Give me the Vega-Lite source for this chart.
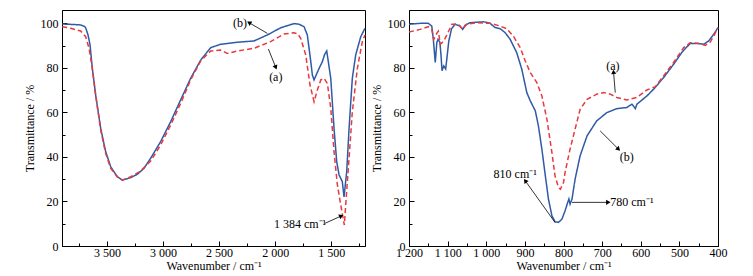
{
  "$schema": "https://vega.github.io/schema/vega-lite/v6.json",
  "background": "white",
  "padding": {"left": 22, "top": 9, "right": 2, "bottom": 2},
  "spacing": 0,
  "config": {
    "view": {"stroke": "black", "strokeWidth": 1},
    "axis": {
      "grid": false, "domainColor": "black", "domainWidth": 1, "tickColor": "black", "tickWidth": 1,
      "labelColor": "black", "titleColor": "black", "labelFont": "Liberation Serif", "titleFont": "Liberation Serif",
      "labelFontSize": 12, "titleFontSize": 12, "titleFontWeight": "normal", "labelFlush": false, "labelOverlap": false
    },
    "text": {"font": "Liberation Serif", "fontSize": 12, "color": "black"}
  },
  "datasets": {
    "left": [
      {"s": "b", "w": 3898, "T": 99.7}, {"s": "b", "w": 3800, "T": 99.5}, {"s": "b", "w": 3734, "T": 99.3}, {"s": "b", "w": 3700, "T": 98.6},
      {"s": "b", "w": 3689, "T": 98}, {"s": "b", "w": 3668, "T": 94.8}, {"s": "b", "w": 3650, "T": 90.3}, {"s": "b", "w": 3630, "T": 79.8},
      {"s": "b", "w": 3600, "T": 67.8}, {"s": "b", "w": 3555, "T": 52.8}, {"s": "b", "w": 3511, "T": 42.4}, {"s": "b", "w": 3466, "T": 35.6},
      {"s": "b", "w": 3407, "T": 31.1}, {"s": "b", "w": 3362, "T": 29.6}, {"s": "b", "w": 3288, "T": 30.7}, {"s": "b", "w": 3229, "T": 32.2},
      {"s": "b", "w": 3169, "T": 34.9}, {"s": "b", "w": 3110, "T": 39.4}, {"s": "b", "w": 3021, "T": 46.9}, {"s": "b", "w": 2932, "T": 55.8},
      {"s": "b", "w": 2843, "T": 65.6}, {"s": "b", "w": 2754, "T": 75.3}, {"s": "b", "w": 2664, "T": 83.5}, {"s": "b", "w": 2575, "T": 89.1},
      {"s": "b", "w": 2486, "T": 90.6}, {"s": "b", "w": 2338, "T": 91.5}, {"s": "b", "w": 2189, "T": 92.1}, {"s": "b", "w": 2070, "T": 94.8},
      {"s": "b", "w": 1952, "T": 98}, {"s": "b", "w": 1833, "T": 99.9}, {"s": "b", "w": 1788, "T": 99.6}, {"s": "b", "w": 1743, "T": 98.5},
      {"s": "b", "w": 1714, "T": 94.8}, {"s": "b", "w": 1683, "T": 82.8}, {"s": "b", "w": 1669, "T": 76.8}, {"s": "b", "w": 1654, "T": 74.6},
      {"s": "b", "w": 1609, "T": 79.8}, {"s": "b", "w": 1580, "T": 82.8}, {"s": "b", "w": 1560, "T": 86}, {"s": "b", "w": 1541, "T": 87.6},
      {"s": "b", "w": 1505, "T": 75.3}, {"s": "b", "w": 1476, "T": 52.8}, {"s": "b", "w": 1452, "T": 37.9}, {"s": "b", "w": 1431, "T": 31.9},
      {"s": "b", "w": 1402, "T": 28.9}, {"s": "b", "w": 1387, "T": 22}, {"s": "b", "w": 1363, "T": 33.4}, {"s": "b", "w": 1342, "T": 52.8},
      {"s": "b", "w": 1313, "T": 75.3}, {"s": "b", "w": 1283, "T": 85.8}, {"s": "b", "w": 1238, "T": 94}, {"s": "b", "w": 1200, "T": 97.8},
      {"s": "a", "w": 3898, "T": 98.5}, {"s": "a", "w": 3823, "T": 97.8}, {"s": "a", "w": 3734, "T": 96.6}, {"s": "a", "w": 3689, "T": 94},
      {"s": "a", "w": 3659, "T": 88.8}, {"s": "a", "w": 3630, "T": 79.8}, {"s": "a", "w": 3600, "T": 67.8}, {"s": "a", "w": 3555, "T": 52},
      {"s": "a", "w": 3511, "T": 41.6}, {"s": "a", "w": 3466, "T": 34.9}, {"s": "a", "w": 3407, "T": 31.1}, {"s": "a", "w": 3362, "T": 29.6},
      {"s": "a", "w": 3288, "T": 31.1}, {"s": "a", "w": 3199, "T": 33.7}, {"s": "a", "w": 3110, "T": 38.2}, {"s": "a", "w": 3021, "T": 45.4},
      {"s": "a", "w": 2932, "T": 54.3}, {"s": "a", "w": 2843, "T": 64}, {"s": "a", "w": 2754, "T": 74.6}, {"s": "a", "w": 2664, "T": 83.1},
      {"s": "a", "w": 2575, "T": 87.6}, {"s": "a", "w": 2486, "T": 88}, {"s": "a", "w": 2427, "T": 86.5}, {"s": "a", "w": 2338, "T": 87.6},
      {"s": "a", "w": 2189, "T": 88.8}, {"s": "a", "w": 2041, "T": 91.8}, {"s": "a", "w": 1922, "T": 95.2}, {"s": "a", "w": 1833, "T": 95.8},
      {"s": "a", "w": 1800, "T": 95.3}, {"s": "a", "w": 1773, "T": 93.3}, {"s": "a", "w": 1728, "T": 85.8}, {"s": "a", "w": 1690, "T": 72.3},
      {"s": "a", "w": 1654, "T": 64.8}, {"s": "a", "w": 1625, "T": 70}, {"s": "a", "w": 1594, "T": 74.6}, {"s": "a", "w": 1565, "T": 75.3},
      {"s": "a", "w": 1535, "T": 73}, {"s": "a", "w": 1505, "T": 61.8}, {"s": "a", "w": 1476, "T": 42.4}, {"s": "a", "w": 1446, "T": 27.4},
      {"s": "a", "w": 1416, "T": 18.4}, {"s": "a", "w": 1384, "T": 9.4}, {"s": "a", "w": 1372, "T": 18.4}, {"s": "a", "w": 1342, "T": 39.4},
      {"s": "a", "w": 1313, "T": 60.3}, {"s": "a", "w": 1268, "T": 79.8}, {"s": "a", "w": 1224, "T": 91.8}, {"s": "a", "w": 1200, "T": 94.8}
    ],
    "right": [
      {"s": "b", "w": 1200, "T": 99.6}, {"s": "b", "w": 1171, "T": 100}, {"s": "b", "w": 1150, "T": 100}, {"s": "b", "w": 1141, "T": 98.8},
      {"s": "b", "w": 1137, "T": 92.8}, {"s": "b", "w": 1132, "T": 82.4}, {"s": "b", "w": 1128, "T": 91.3}, {"s": "b", "w": 1125, "T": 92.8},
      {"s": "b", "w": 1120, "T": 91.5}, {"s": "b", "w": 1117, "T": 85.4}, {"s": "b", "w": 1114.5, "T": 78.7}, {"s": "b", "w": 1110, "T": 80.9},
      {"s": "b", "w": 1105, "T": 79.5}, {"s": "b", "w": 1097, "T": 92}, {"s": "b", "w": 1090, "T": 97.5}, {"s": "b", "w": 1081, "T": 99.6},
      {"s": "b", "w": 1068, "T": 98.8}, {"s": "b", "w": 1061, "T": 97.3}, {"s": "b", "w": 1055, "T": 99.1}, {"s": "b", "w": 1042, "T": 100.3},
      {"s": "b", "w": 1007, "T": 100.7}, {"s": "b", "w": 990, "T": 100}, {"s": "b", "w": 977, "T": 98.1}, {"s": "b", "w": 964, "T": 97.6},
      {"s": "b", "w": 951, "T": 95.8}, {"s": "b", "w": 938, "T": 92.8}, {"s": "b", "w": 921, "T": 86.8}, {"s": "b", "w": 908, "T": 79.4},
      {"s": "b", "w": 895, "T": 68.9}, {"s": "b", "w": 886, "T": 65.2}, {"s": "b", "w": 873, "T": 60.7}, {"s": "b", "w": 865, "T": 54},
      {"s": "b", "w": 856, "T": 43.5}, {"s": "b", "w": 847, "T": 31.5}, {"s": "b", "w": 839, "T": 21.1}, {"s": "b", "w": 830, "T": 13.6},
      {"s": "b", "w": 822, "T": 10.9}, {"s": "b", "w": 813, "T": 10.6}, {"s": "b", "w": 804, "T": 12.1}, {"s": "b", "w": 796, "T": 15.8},
      {"s": "b", "w": 789, "T": 19.6}, {"s": "b", "w": 786, "T": 21.1}, {"s": "b", "w": 783, "T": 18.8}, {"s": "b", "w": 778, "T": 21.1},
      {"s": "b", "w": 770, "T": 30}, {"s": "b", "w": 757, "T": 40.5}, {"s": "b", "w": 739, "T": 49.5}, {"s": "b", "w": 714, "T": 56.2},
      {"s": "b", "w": 688, "T": 59.9}, {"s": "b", "w": 662, "T": 61.7}, {"s": "b", "w": 636, "T": 62.2}, {"s": "b", "w": 623, "T": 63.7},
      {"s": "b", "w": 619, "T": 62.9}, {"s": "b", "w": 614, "T": 61.7}, {"s": "b", "w": 610, "T": 63.7}, {"s": "b", "w": 584, "T": 67.4},
      {"s": "b", "w": 567, "T": 70.4}, {"s": "b", "w": 541, "T": 75.6}, {"s": "b", "w": 515, "T": 81.6}, {"s": "b", "w": 493, "T": 87.1},
      {"s": "b", "w": 472, "T": 91}, {"s": "b", "w": 454, "T": 91}, {"s": "b", "w": 437, "T": 90.6}, {"s": "b", "w": 424, "T": 92.1},
      {"s": "b", "w": 411, "T": 95.1}, {"s": "b", "w": 400, "T": 98.1},
      {"s": "a", "w": 1200, "T": 96.1}, {"s": "a", "w": 1171, "T": 97.3}, {"s": "a", "w": 1150, "T": 98.5}, {"s": "a", "w": 1141, "T": 97.3},
      {"s": "a", "w": 1136, "T": 92.8}, {"s": "a", "w": 1127, "T": 95.8}, {"s": "a", "w": 1124, "T": 96.5}, {"s": "a", "w": 1119, "T": 90.6},
      {"s": "a", "w": 1110, "T": 92}, {"s": "a", "w": 1101.5, "T": 95}, {"s": "a", "w": 1089, "T": 99.6}, {"s": "a", "w": 1072, "T": 99.6},
      {"s": "a", "w": 1061, "T": 97.3}, {"s": "a", "w": 1051, "T": 99.6}, {"s": "a", "w": 1025, "T": 100.3}, {"s": "a", "w": 990, "T": 100},
      {"s": "a", "w": 964, "T": 98.8}, {"s": "a", "w": 947, "T": 97.6}, {"s": "a", "w": 930, "T": 94.3}, {"s": "a", "w": 912, "T": 89.1},
      {"s": "a", "w": 899, "T": 83.1}, {"s": "a", "w": 886, "T": 77.9}, {"s": "a", "w": 869, "T": 73.4}, {"s": "a", "w": 856, "T": 67.4},
      {"s": "a", "w": 843, "T": 57}, {"s": "a", "w": 830, "T": 42}, {"s": "a", "w": 822, "T": 31.5}, {"s": "a", "w": 813, "T": 26.3},
      {"s": "a", "w": 808, "T": 25.5}, {"s": "a", "w": 800, "T": 28.5}, {"s": "a", "w": 796, "T": 33}, {"s": "a", "w": 783, "T": 43.5},
      {"s": "a", "w": 770, "T": 52.5}, {"s": "a", "w": 757, "T": 61.4}, {"s": "a", "w": 739, "T": 65.9}, {"s": "a", "w": 714, "T": 68.2},
      {"s": "a", "w": 696, "T": 68.9}, {"s": "a", "w": 679, "T": 68.2}, {"s": "a", "w": 662, "T": 66.7}, {"s": "a", "w": 636, "T": 65.6},
      {"s": "a", "w": 610, "T": 66.7}, {"s": "a", "w": 584, "T": 70.1}, {"s": "a", "w": 562, "T": 71.6}, {"s": "a", "w": 541, "T": 76.4},
      {"s": "a", "w": 515, "T": 82.4}, {"s": "a", "w": 489, "T": 89.1}, {"s": "a", "w": 472, "T": 91.3}, {"s": "a", "w": 450, "T": 91},
      {"s": "a", "w": 433, "T": 90.1}, {"s": "a", "w": 420, "T": 91.6}, {"s": "a", "w": 411, "T": 94.3}, {"s": "a", "w": 400, "T": 98.1}
    ],
    "arrL": [
      {"id": "Lb", "w": 2233, "T": 100.3, "w2": 2070, "T2": 95.5},
      {"id": "La", "w": 1995, "T": 80.2, "w2": 2061, "T2": 88.5},
      {"id": "L1384", "w": 1411, "T": 13.5, "w2": 1556, "T2": 10.2}
    ],
    "txtL": [
      {"lab": "(b)", "w": 2314, "T": 100},
      {"lab": "(a)", "w": 1995, "T": 76},
      {"lab": "1 384 cm⁻¹", "w": 1779, "T": 9.7}
    ],
    "arrR": [
      {"id": "Ra", "w": 670.5, "T": 78.2, "w2": 666, "T2": 68.9},
      {"id": "Rb", "w": 657.6, "T": 43.5, "w2": 705, "T2": 51.7},
      {"id": "R810", "w": 899, "T": 29.3, "w2": 822, "T2": 10.6},
      {"id": "R780", "w": 684, "T": 19.6, "w2": 778, "T2": 19.6}
    ],
    "txtR": [
      {"lab": "(a)", "w": 672, "T": 81},
      {"lab": "(b)", "w": 636, "T": 39.8},
      {"lab": "810 cm⁻¹", "w": 925, "T": 32.3},
      {"lab": "780 cm⁻¹", "w": 623, "T": 19.6}
    ]
  },
  "hconcat": [
    {
      "width": 303, "height": 236,
      "encoding": {
        "x": {"field": "w", "type": "quantitative", "scale": {"domain": [3900, 1200], "nice": false, "zero": false},
          "axis": {"title": "Wavenumber / cm⁻¹", "values": [3750, 3500, 3250, 3000, 2750, 2500, 2250, 2000, 1750, 1500, 1250],
            "labelExpr": "datum.value % 500 === 0 ? replace(format(datum.value, ','), ',', ' ') : ''",
            "tickSize": {"condition": {"test": "datum.value % 500 === 0", "value": -5}, "value": -3},
            "labelPadding": 6, "titlePadding": 0}},
        "y": {"field": "T", "type": "quantitative", "scale": {"domain": [0, 106], "nice": false},
          "axis": {"title": "Transmittance / %", "values": [0, 10, 20, 30, 40, 50, 60, 70, 80, 90, 100],
            "labelExpr": "datum.value % 20 === 0 ? datum.label : ''",
            "tickSize": {"condition": {"test": "datum.value % 20 === 0", "value": -5}, "value": -3},
            "labelPadding": 9, "titlePadding": 4}}
      },
      "layer": [
        {"data": {"name": "left"}, "mark": {"type": "line", "strokeWidth": 1.5},
          "encoding": {
            "color": {"field": "s", "type": "nominal", "scale": {"domain": ["b", "a"], "range": ["#2f5aa6", "#e8393f"]}, "legend": null},
            "strokeDash": {"field": "s", "type": "nominal", "scale": {"domain": ["b", "a"], "range": [[1, 0], [5, 3]]}, "legend": null}
          }},
        {"data": {"name": "arrL"}, "mark": {"type": "rule", "color": "black", "strokeWidth": 0.8},
          "encoding": {"x2": {"field": "w2"}, "y2": {"field": "T2"}}},
        {"data": {"name": "arrL"}, "transform": [{"filter": "datum.id === 'Lb'"}], "mark": {"type": "point", "shape": "triangle-right", "filled": true, "color": "black", "opacity": 1, "size": 26, "angle": 210}, "encoding": {}},
        {"data": {"name": "arrL"}, "transform": [{"filter": "datum.id === 'La'"}], "mark": {"type": "point", "shape": "triangle-right", "filled": true, "color": "black", "opacity": 1, "size": 26, "angle": 68}, "encoding": {}},
        {"data": {"name": "arrL"}, "transform": [{"filter": "datum.id === 'L1384'"}], "mark": {"type": "point", "shape": "triangle-right", "filled": true, "color": "black", "opacity": 1, "size": 26, "angle": 336}, "encoding": {}},
        {"data": {"name": "txtL"}, "mark": {"type": "text", "align": "center", "baseline": "middle"}, "encoding": {"text": {"field": "lab"}}}
      ]
    },
    {
      "width": 309, "height": 236,
      "encoding": {
        "x": {"field": "w", "type": "quantitative", "scale": {"domain": [1200, 400], "nice": false, "zero": false},
          "axis": {"title": "Wavenumber / cm⁻¹", "values": [1200, 1150, 1100, 1050, 1000, 950, 900, 850, 800, 750, 700, 650, 600, 550, 500, 450, 400],
            "labelExpr": "datum.value % 100 === 0 ? replace(format(datum.value, ','), ',', ' ') : ''",
            "tickSize": {"condition": {"test": "datum.value % 100 === 0", "value": -5}, "value": -3},
            "labelPadding": 6, "titlePadding": 0}},
        "y": {"field": "T", "type": "quantitative", "scale": {"domain": [0, 106], "nice": false},
          "axis": {"title": "Transmittance / %", "values": [0, 10, 20, 30, 40, 50, 60, 70, 80, 90, 100],
            "labelExpr": "datum.value % 20 === 0 ? datum.label : ''",
            "tickSize": {"condition": {"test": "datum.value % 20 === 0", "value": -5}, "value": -3},
            "labelPadding": 9, "titlePadding": 4}}
      },
      "layer": [
        {"data": {"name": "right"}, "mark": {"type": "line", "strokeWidth": 1.5},
          "encoding": {
            "color": {"field": "s", "type": "nominal", "scale": {"domain": ["b", "a"], "range": ["#2f5aa6", "#e8393f"]}, "legend": null},
            "strokeDash": {"field": "s", "type": "nominal", "scale": {"domain": ["b", "a"], "range": [[1, 0], [5, 3]]}, "legend": null}
          }},
        {"data": {"name": "arrR"}, "mark": {"type": "rule", "color": "black", "strokeWidth": 0.8},
          "encoding": {"x2": {"field": "w2"}, "y2": {"field": "T2"}}},
        {"data": {"name": "arrR"}, "transform": [{"filter": "datum.id === 'Ra'"}], "mark": {"type": "point", "shape": "triangle-right", "filled": true, "color": "black", "opacity": 1, "size": 26, "angle": 265}, "encoding": {}},
        {"data": {"name": "arrR"}, "transform": [{"filter": "datum.id === 'Rb'"}], "mark": {"type": "point", "shape": "triangle-right", "filled": true, "color": "black", "opacity": 1, "size": 26, "angle": 45}, "encoding": {}},
        {"data": {"name": "arrR"}, "transform": [{"filter": "datum.id === 'R810'"}], "mark": {"type": "point", "shape": "triangle-right", "filled": true, "color": "black", "opacity": 1, "size": 26, "angle": 234}, "encoding": {}},
        {"data": {"name": "arrR"}, "transform": [{"filter": "datum.id === 'R780'"}], "mark": {"type": "point", "shape": "triangle-right", "filled": true, "color": "black", "opacity": 1, "size": 26, "angle": 0}, "encoding": {}},
        {"data": {"name": "txtR"}, "mark": {"type": "text", "align": "center", "baseline": "middle"}, "encoding": {"text": {"field": "lab"}}}
      ]
    }
  ]
}
